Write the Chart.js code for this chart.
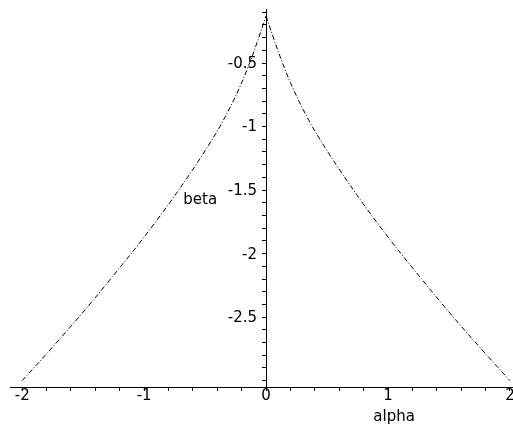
<!DOCTYPE html>
<html>
<head>
<meta charset="utf-8">
<script src="https://cdn.jsdelivr.net/npm/chart.js@4.4.1/dist/chart.umd.min.js"></script>
<style>
  html, body { margin: 0; padding: 0; background: #fff; }
</style>
</head>
<body>
<canvas id="plot" width="513" height="435"></canvas>
<script>
// beta as a function of alpha, left and right branches meeting at the cusp
const alphaLeft = [-2, -1.75, -1.5, -1.25, -1, -0.75, -0.5, -0.35, -0.2, -0.1, 0];
const betaLeft = [-3.0, -2.735, -2.46, -2.17, -1.87, -1.545, -1.19, -0.95, -0.655, -0.41, -0.13];
const alphaRight = [0, 0.1, 0.2, 0.35, 0.5, 0.75, 1, 1.25, 1.5, 1.75, 2];
const betaRight = [-0.13, -0.41, -0.655, -0.95, -1.19, -1.545, -1.87, -2.17, -2.46, -2.735, -3.0];

// only these beta values get a printed label on the vertical axis
const betaLabels = [-0.5, -1, -1.5, -2, -2.5];

const FONT = { family: 'DejaVu Sans', size: 15 };
const FONT_CSS = '15px "DejaVu Sans"';

function pts(xs, ys) {
  return xs.map((x, i) => ({ x: x, y: ys[i] }));
}

function onStep(v, step) {
  const q = v / step;
  return Math.abs(q - Math.round(q)) < 1e-6;
}

// beta tick labels sit left of the axis through alpha = 0, axis names are free text
const axisText = {
  id: 'axisText',
  afterDraw(chart) {
    const { ctx, scales: { x, y } } = chart;
    const x0 = x.getPixelForValue(0);
    ctx.save();
    ctx.font = FONT_CSS;
    ctx.fillStyle = '#000';
    ctx.textBaseline = 'middle';
    ctx.textAlign = 'right';
    y.ticks.forEach((t) => {
      if (betaLabels.some((b) => Math.abs(b - t.value) < 1e-6)) {
        ctx.fillText(String(t.value), x0 - 9, y.getPixelForValue(t.value) + 1);
      }
    });
    ctx.textAlign = 'center';
    ctx.fillText('alpha', x.getPixelForValue(1.05), y.bottom + 30);
    ctx.fillText('beta', x.getPixelForValue(-0.54), y.getPixelForValue(-1.58));
    ctx.restore();
  }
};

const branch = (data) => ({
  data: data,
  borderColor: '#000',
  borderWidth: 1,
  borderDash: [5, 2, 1, 2],
  pointRadius: 0,
  cubicInterpolationMode: 'monotone',
  fill: false
});

new Chart(document.getElementById('plot'), {
  type: 'line',
  data: {
    datasets: [branch(pts(alphaLeft, betaLeft)), branch(pts(alphaRight, betaRight))]
  },
  options: {
    responsive: false,
    animation: false,
    devicePixelRatio: 1,
    layout: { padding: { left: 10, right: 0, top: 9.7, bottom: 0 } },
    plugins: { legend: { display: false }, tooltip: { enabled: false } },
    scales: {
      x: {
        type: 'linear',
        min: -2.1,
        max: 2.025,
        position: 'bottom',
        grid: { drawOnChartArea: false, drawTicks: true, tickLength: 4, color: '#000' },
        border: { display: true, color: '#000', width: 1 },
        ticks: {
          stepSize: 0.2,
          autoSkip: false,
          includeBounds: false,
          maxRotation: 0,
          padding: -4,
          color: '#000',
          font: FONT,
          callback: (v) => onStep(v, 1) ? String(Math.round(v)) : ''
        },
        afterFit(s) {
          s.height = 48;
          s.paddingLeft = 0;
          s.paddingRight = 0;
        }
      },
      y: {
        type: 'linear',
        min: -3.05,
        max: -0.08,
        position: { x: 0 },
        grid: { drawOnChartArea: false, drawTicks: true, tickLength: 4, color: '#000' },
        border: { display: true, color: '#000', width: 1 },
        ticks: {
          display: false,
          stepSize: 0.1,
          autoSkip: false,
          includeBounds: false
        },
        afterFit(s) {
          s.paddingTop = 0;
          s.paddingBottom = 0;
        }
      }
    }
  },
  plugins: [axisText]
});
</script>
</body>
</html>
